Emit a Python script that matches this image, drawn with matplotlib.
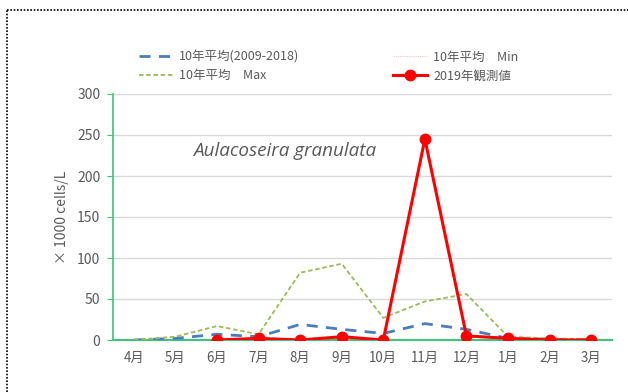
import matplotlib
matplotlib.use("Agg")
import matplotlib.pyplot as plt
from matplotlib.lines import Line2D

plt.rcParams['font.family'] = ['Noto Sans CJK JP', 'DejaVu Sans']

months = ["4月", "5月", "6月", "7月", "8月", "9月", "10月", "11月", "12月", "1月", "2月", "3月"]
avg_2009_2018 = [0, 2, 7, 4, 19, 13, 8, 20, 13, 2, 1, 0]
avg_max = [0, 4, 17, 7, 82, 93, 27, 47, 56, 4, 2, 1]
avg_min = [0, 0, 0, 0, 0, 0, 0, 0, 0, 0, 0, 0]
obs_2019 = [None, None, 0, 2, 0, 4, 0, 245, 5, 2, 0, 0]
yticks = [0, 50, 100, 150, 200, 250, 300]

W, H = 628, 392
fig = plt.figure(figsize=(W / 100, H / 100), dpi=100)
ax = fig.add_axes([113 / W, 1 - 340 / H, (612 - 113) / W, (340 - 94) / H])

x = list(range(len(months)))
gray = "#595959"
green_axis = "#3CC47C"

style_avg = dict(color="#4A7EBB", lw=2.0, ls=(0, (4, 3)))
style_max = dict(color="#9BBB59", lw=1.3, ls=(0, (2.5, 1.5)))
style_min = dict(color="#F2C4C4", lw=0.8, ls=(0, (1, 1)))
style_obs = dict(color="#FF0000", lw=2.2, marker="o", ms=7.5)

ax.plot(x, avg_2009_2018, zorder=3, **style_avg)
ax.plot(x, avg_max, zorder=3, **style_max)
ax.plot(x, avg_min, zorder=3, **style_min)
obs_x = [i for i, v in zip(x, obs_2019) if v is not None]
obs_y = [v for v in obs_2019 if v is not None]
ax.plot(obs_x, obs_y, zorder=4, **style_obs)

ax.set_xlim(-0.5, len(months) - 0.5)
ax.set_ylim(0, 300)
ax.set_yticks(yticks)
ax.set_xticks(x)
ax.set_xticklabels(months)
ax.grid(axis="y", color="#D9D9D9", lw=1.0)
ax.set_axisbelow(True)
for s in ["top", "right"]:
    ax.spines[s].set_visible(False)
ax.spines["left"].set_color(green_axis)
ax.spines["bottom"].set_color(green_axis)
ax.spines["left"].set_linewidth(1.2)
ax.spines["bottom"].set_linewidth(1.5)
ax.tick_params(axis="y", colors=gray, labelsize=10, length=4, color=green_axis, direction="out", pad=5)
ax.tick_params(axis="x", colors=gray, labelsize=9.6, length=0, pad=8)
ax.set_ylabel("× 1000 cells/L", color=gray, fontsize=10, labelpad=6)

ax.text(1.42, 231, "Aulacoseira granulata", style="italic", color=gray, fontsize=13.6,
        family=["Open Sans"], ha="left", va="center")

leg_kw = dict(loc="center left", frameon=False, fontsize=9, handlelength=2.7,
              labelspacing=0.45, handletextpad=0.5, borderpad=0, borderaxespad=0)
leg1 = fig.legend([Line2D([], [], **style_avg), Line2D([], [], **style_max)],
                  ["10年平均(2009-2018)", "10年平均　Max"],
                  bbox_to_anchor=(139 / W, 1 - 66.5 / H), **leg_kw)
leg2 = fig.legend([Line2D([], [], **style_min), Line2D([], [], **style_obs)],
                  ["10年平均　Min", "2019年観測値"],
                  bbox_to_anchor=(393 / W, 1 - 66.5 / H), **leg_kw)
for leg in (leg1, leg2):
    for t in leg.get_texts():
        t.set_color(gray)

# dotted frame
fig.add_artist(Line2D([7 / W, 7 / W], [0, 1 - 10 / H], transform=fig.transFigure,
                      color="black", lw=1.2, ls=(0, (1, 1))))
fig.add_artist(Line2D([7 / W, 1], [1 - 10 / H, 1 - 10 / H], transform=fig.transFigure,
                      color="black", lw=1.2, ls=(0, (1, 1))))

fig.savefig("out.png", dpi=100)
